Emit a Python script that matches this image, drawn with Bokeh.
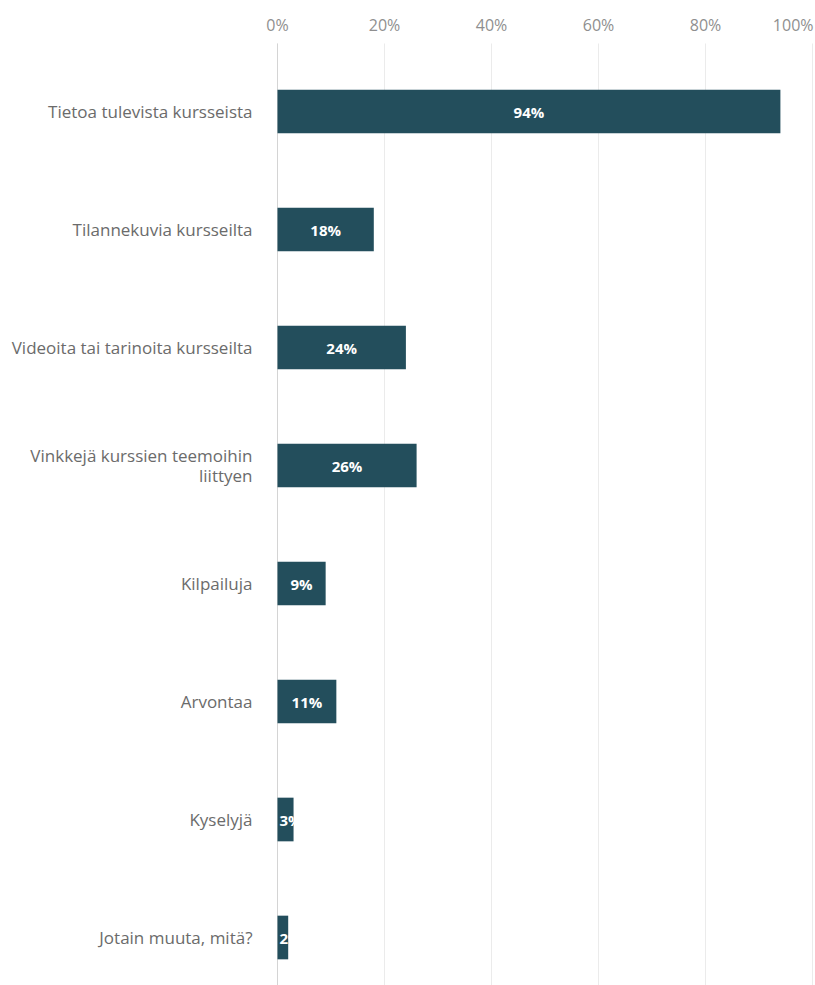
from bokeh.plotting import figure
from bokeh.models import Range1d, ColumnDataSource
from bokeh.embed import file_html
from bokeh.resources import INLINE
from bokeh.core.properties import value

# Survey answers: share of respondents per content type (%)
categories = [
    "Tietoa tulevista kursseista",
    "Tilannekuvia kursseilta",
    "Videoita tai tarinoita kursseilta",
    "Vinkkejä kurssien teemoihin\nliittyen",
    "Kilpailuja",
    "Arvontaa",
    "Kyselyjä",
    "Jotain muuta, mitä?",
]
shares = [94, 18, 24, 26, 9, 11, 3, 2]

tick_values = [0, 20, 40, 60, 80, 100]
tick_labels = ["0%", "20%", "40%", "60%", "80%", "100%"]

# Layout (pixels)
W, H = 815, 985
ZERO_X = 277        # horizontal pixel of 0 %
PX_PER_PCT = 5.35   # horizontal scale
FIRST_ROW_Y = 111   # vertical pixel of the first bar's centre
ROW_PX = 118        # distance between bars
GRID_TOP_Y = 43     # gridlines start below the scale labels
SCALE_Y = 24        # scale labels' centre line

BAR_COLOR = "#234e5c"
FONT = "Open Sans"
SCALE_COLOR = "#8f8f8f"
CAT_COLOR = "#6b6b6b"
GRID_COLOR = "#ebebeb"
AXIS_COLOR = "#d4d4d4"


def row_at(py):
    """Row coordinate for a vertical pixel position."""
    return (py - FIRST_ROW_Y) / ROW_PX


n = len(categories)
positions = list(range(n))
source = ColumnDataSource(dict(
    y=positions,
    share=shares,
    mid=[s / 2 for s in shares],
    label=[f"{s}%" for s in shares],
    cat=categories,
))

p = figure(
    width=W, height=H,
    x_range=Range1d(-ZERO_X / PX_PER_PCT, (W - ZERO_X) / PX_PER_PCT),
    y_range=Range1d(row_at(H), row_at(0)),
    x_axis_location=None, y_axis_location=None,
    toolbar_location=None, output_backend="svg",
    min_border=0,
)
p.outline_line_color = None
p.grid.visible = False

grid_top = row_at(GRID_TOP_Y)
grid_bottom = row_at(H)

# vertical gridlines at the scale ticks, plus the darker zero line
p.segment(x0=tick_values, y0=[grid_top] * len(tick_values),
          x1=tick_values, y1=[grid_bottom] * len(tick_values),
          line_color=GRID_COLOR, line_width=1)
p.segment(x0=[0], y0=[grid_top], x1=[0], y1=[grid_bottom],
          line_color=AXIS_COLOR, line_width=1)

# scale labels above the bars
scale_y = row_at(SCALE_Y)
p.text(x=tick_values[:-1], y=[scale_y] * (len(tick_values) - 1),
       text=tick_labels[:-1], text_align="center", text_baseline="middle",
       text_font=value(FONT), text_font_size="16px", text_color=SCALE_COLOR)
p.text(x=tick_values[-1:], y=[scale_y], text=tick_labels[-1:],
       x_offset=1, text_align="right", text_baseline="middle",
       text_font=value(FONT), text_font_size="16px", text_color=SCALE_COLOR)

# category names, right-aligned left of the zero line
p.text(x=0, y="y", text="cat", source=source, x_offset=-25,
       text_align="right", text_baseline="middle",
       text_font=value(FONT), text_font_size="17px",
       text_color=CAT_COLOR, text_line_height=0.9)

# bars
p.hbar(y="y", left=0, right="share", height=0.37, source=source,
       fill_color=BAR_COLOR, line_color=None)

# value labels: centred in wide bars, starting at the bar's base in thin ones
wide = ColumnDataSource({k: [v for v, s in zip(col, shares) if s >= 5]
                         for k, col in source.data.items()})
thin = ColumnDataSource({k: [v for v, s in zip(col, shares) if s < 5]
                         for k, col in source.data.items()})
p.text(x="mid", y="y", text="label", source=wide,
       text_align="center", text_baseline="middle",
       text_font=value(FONT), text_font_style="bold",
       text_font_size="15px", text_color="white")
p.text(x=0, y="y", text="label", source=thin, x_offset=2,
       text_align="left", text_baseline="middle",
       text_font=value(FONT), text_font_style="bold",
       text_font_size="15px", text_color="white")

open("out.html", "w").write(file_html(p, INLINE))
